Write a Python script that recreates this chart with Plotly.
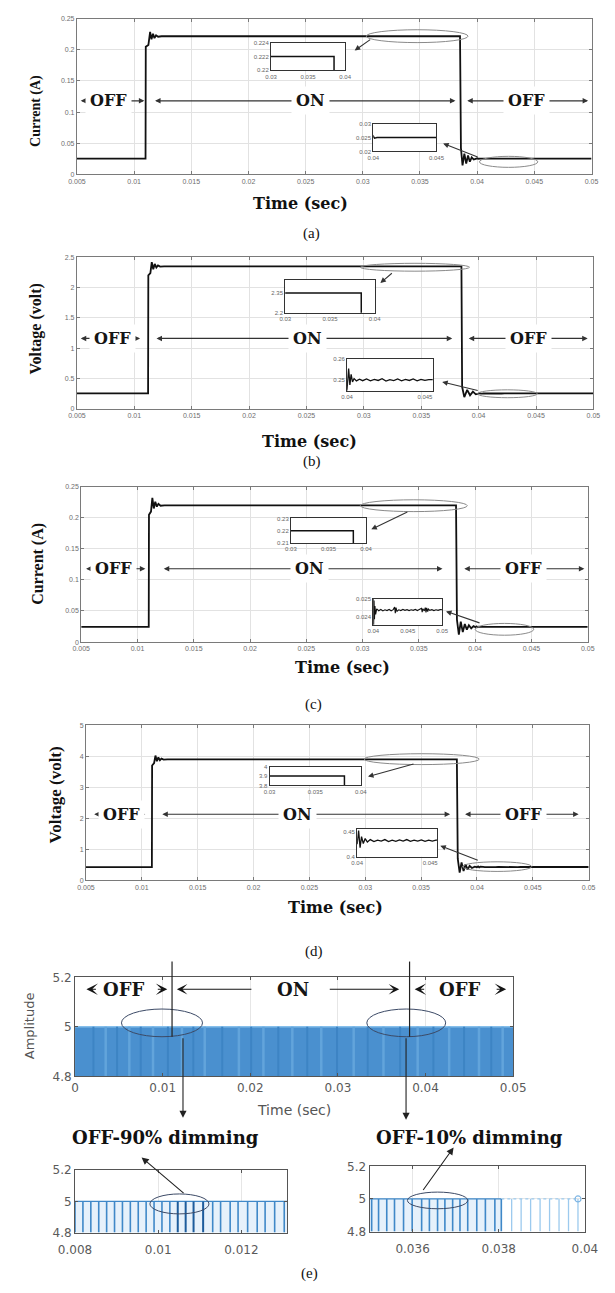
import plotly.graph_objects as go

W, H = 615, 1293

# ---------------- data ----------------
main_xticks = [0.005, 0.01, 0.015, 0.02, 0.025, 0.03, 0.035, 0.04, 0.045, 0.05]
main_xticklabels = ["0.005", "0.01", "0.015", "0.02", "0.025", "0.03", "0.035", "0.04", "0.045", "0.05"]
cur_yticks = [0, 0.05, 0.1, 0.15, 0.2, 0.25]
cur_yticklabels = ["0", "0.05", "0.1", "0.15", "0.2", "0.25"]
volt_b_yticks = [0, 0.5, 1, 1.5, 2, 2.5]
volt_b_yticklabels = ["0", "0.5", "1", "1.5", "2", "2.5"]
volt_d_yticks = [0, 1, 2, 3, 4, 5]
volt_d_yticklabels = ["0", "1", "2", "3", "4", "5"]

# (a) current waveform
t_a = [0.0050, 0.0110, 0.01102, 0.01125, 0.01140, 0.01152, 0.01165, 0.01178, 0.01192, 0.01210,
       0.01240, 0.03850, 0.03858, 0.03872, 0.03888, 0.03904, 0.03920, 0.03936, 0.03952, 0.03970,
       0.04000, 0.04010, 0.04030, 0.0500]
i_a = [0.025, 0.025, 0.205, 0.208, 0.229, 0.217, 0.226, 0.219, 0.2235, 0.2212,
       0.222, 0.222, 0.042, 0.014, 0.033, 0.017, 0.030, 0.020, 0.027, 0.0235,
       0.0255, 0.0248, 0.025, 0.025]

# (b) voltage waveform
t_b = [0.0050, 0.01120, 0.01122, 0.01140, 0.01152, 0.01165, 0.01178, 0.01192, 0.01206, 0.01225,
       0.01260, 0.03850, 0.03856, 0.03875, 0.03900, 0.03925, 0.03950, 0.03975, 0.04000, 0.04010,
       0.04018, 0.04026, 0.04035, 0.04045, 0.04060, 0.04080, 0.04100, 0.04125, 0.04150, 0.04175,
       0.04200, 0.04225, 0.04250, 0.04275, 0.04300, 0.04325, 0.04350, 0.04375, 0.04400, 0.04425,
       0.04450, 0.04475, 0.04500, 0.04525, 0.05000]
v_b = [0.25, 0.25, 2.20, 2.24, 2.42, 2.30, 2.39, 2.33, 2.365, 2.345,
       2.35, 2.35, 0.36, 0.19, 0.31, 0.22, 0.28, 0.235, 0.246, 0.2555,
       0.2478, 0.2528, 0.2492, 0.2508, 0.2497, 0.2505, 0.2498, 0.2506, 0.2497, 0.2504,
       0.2499, 0.2507, 0.2496, 0.2503, 0.2498, 0.2506, 0.2497, 0.2504, 0.2499, 0.2506,
       0.2497, 0.2504, 0.2499, 0.2503, 0.25]

# (c) current waveform (switching part + noisy OFF tail)
t_c_switch = [0.0050, 0.01100, 0.01102, 0.01120, 0.01132, 0.01145, 0.01158, 0.01172, 0.01186, 0.01205,
              0.01240, 0.03830, 0.03838, 0.03855, 0.03872, 0.03890, 0.03908, 0.03926, 0.03944, 0.03965,
              0.03985]
i_c_switch = [0.0244, 0.0244, 0.205, 0.210, 0.232, 0.215, 0.226, 0.218, 0.2225, 0.2195,
              0.22, 0.22, 0.036, 0.012, 0.033, 0.016, 0.029, 0.020, 0.027, 0.022,
              0.0255]
t_c_tail = [0.04000, 0.04006, 0.04012, 0.04018, 0.04025, 0.04035, 0.04050, 0.04080, 0.04110, 0.04140,
            0.04170, 0.04200, 0.04230, 0.04260, 0.04290, 0.04310, 0.04320, 0.04330, 0.04345, 0.04370,
            0.04400, 0.04430, 0.04460, 0.04490, 0.04520, 0.04550, 0.04580, 0.04610, 0.04640, 0.04670,
            0.04700, 0.04710, 0.04720, 0.04740, 0.04755, 0.04765, 0.04775, 0.04790, 0.04800, 0.04820,
            0.04850, 0.04880, 0.04910, 0.04940, 0.04970, 0.05000]
i_c_tail = [0.0250, 0.0236, 0.0249, 0.0239, 0.0246, 0.02415, 0.02445, 0.02435, 0.02442, 0.02434,
            0.0244, 0.02436, 0.02442, 0.02435, 0.02441, 0.02455, 0.02422, 0.02452, 0.02432, 0.0244,
            0.02436, 0.02442, 0.02437, 0.02441, 0.02436, 0.0244, 0.02437, 0.02442, 0.02436, 0.0244,
            0.02448, 0.02428, 0.02446, 0.02434, 0.02452, 0.02426, 0.0245, 0.0243, 0.02444, 0.02437,
            0.02441, 0.02436, 0.0244, 0.02437, 0.02441, 0.0244]

# (d) voltage waveform
t_d = [0.0050, 0.01090, 0.01092, 0.01110, 0.01122, 0.01135, 0.01148, 0.01162, 0.01176, 0.01195,
       0.01230, 0.03820, 0.03828, 0.03845, 0.03862, 0.03880, 0.03898, 0.03916, 0.03934, 0.03955,
       0.03980, 0.04000, 0.04010, 0.04020, 0.04030, 0.04042, 0.04055, 0.04070, 0.04090, 0.04115,
       0.04140, 0.04165, 0.04190, 0.04215, 0.04240, 0.04265, 0.04290, 0.04315, 0.04340, 0.04365,
       0.04390, 0.04415, 0.04440, 0.04465, 0.04490, 0.04515, 0.04540, 0.05000]
v_d = [0.43, 0.43, 3.70, 3.78, 4.02, 3.84, 3.96, 3.87, 3.92, 3.89,
       3.90, 3.90, 0.70, 0.25, 0.58, 0.30, 0.52, 0.35, 0.47, 0.40,
       0.445, 0.425, 0.452, 0.418, 0.440, 0.426, 0.436, 0.429, 0.434, 0.430,
       0.433, 0.431, 0.434, 0.430, 0.433, 0.4305, 0.4335, 0.431, 0.434, 0.4305,
       0.433, 0.431, 0.4335, 0.4305, 0.433, 0.431, 0.433, 0.432]

# (e) PWM amplitude
e_xticks = [0, 0.01, 0.02, 0.03, 0.04, 0.05]
e_xticklabels = ["0", "0.01", "0.02", "0.03", "0.04", "0.05"]
e_yticks = [4.8, 5.0, 5.2]
e_yticklabels = ["4.8", "5", "5.2"]
e_floor = 4.8
e_level = 5.0
e_span_t = [0.0, 0.05]
e_stripe_light_t = [0.0035, 0.0062, 0.0089, 0.0122, 0.0148, 0.0187, 0.0215, 0.0248, 0.0281, 0.0318,
                    0.0352, 0.0391, 0.0427, 0.0461, 0.0488]
e_stripe_dark_t = [0.0021, 0.0048, 0.0075, 0.0106, 0.0135, 0.0168, 0.0201, 0.0232, 0.0265, 0.0299,
                   0.0334, 0.0371, 0.0409, 0.0444, 0.0475]
e_bl_xticks = [0.008, 0.01, 0.012]
e_bl_xticklabels = ["0.008", "0.01", "0.012"]
e_bl_range = [0.008, 0.0131]
e_bl_t = [0.00800, 0.00819, 0.00838, 0.00857, 0.00876, 0.00895, 0.00914, 0.00933, 0.00952, 0.00971,
          0.00990, 0.01009, 0.01028, 0.01047, 0.01066, 0.01085, 0.01108, 0.01131, 0.01150, 0.01173,
          0.01192, 0.01215, 0.01238, 0.01257, 0.01280, 0.01303]
e_br_xticks = [0.036, 0.038, 0.04]
e_br_xticklabels = ["0.036", "0.038", "0.04"]
e_br_range = [0.035, 0.0400]
e_br_on_t = [0.03505, 0.03521, 0.03540, 0.03558, 0.03579, 0.03599, 0.03621, 0.03639, 0.03658, 0.03675,
             0.03693, 0.03710, 0.03728, 0.03749, 0.03769, 0.03791, 0.03806]
e_br_off_t = [0.03830, 0.03852, 0.03874, 0.03896, 0.03918, 0.03940, 0.03962, 0.03984]

assert len(t_a) == len(i_a) and len(t_b) == len(v_b) and len(t_d) == len(v_d)
assert len(t_c_switch) == len(i_c_switch) and len(t_c_tail) == len(i_c_tail)
t_c = t_c_switch + t_c_tail
i_c = i_c_switch + i_c_tail

# ---------------- helpers ----------------
def px(v):
    return v / W

def py(v):
    return 1 - v / H

layout = dict(width=W, height=H, autosize=False, margin=dict(l=0, r=0, t=0, b=0),
              paper_bgcolor="white", plot_bgcolor="white", showlegend=False)
annotations = []
shapes = []
fig = go.Figure()

main_style = dict(showline=True, linecolor="#7a7a7a", linewidth=1, mirror="allticks",
                  ticks="inside", ticklen=3, tickcolor="#7a7a7a", tickwidth=1,
                  showgrid=True, gridcolor="#e2e2e2", gridwidth=1, zeroline=False,
                  tickfont=dict(family="Liberation Sans", size=7, color="#6e6e6e"))
inset_style = dict(showline=True, linecolor="#333333", linewidth=1, mirror=True, ticks="",
                   showgrid=False, zeroline=False,
                   tickfont=dict(family="Liberation Sans", size=6, color="#666666"))
e_style = dict(showline=True, linecolor="#555555", linewidth=1, mirror="allticks",
               ticks="inside", ticklen=3, tickcolor="#555555", showgrid=True,
               gridcolor="#e6e6e6", zeroline=False,
               tickfont=dict(family="DejaVu Sans", size=12, color="#5a5a5a"))


def add_axes(n, xpx, ypx, xr, yr, xt, xtl, yt, ytl, style, xextra=None):
    xid = "x" if n == 1 else f"x{n}"
    yid = "y" if n == 1 else f"y{n}"
    xname = "xaxis" if n == 1 else f"xaxis{n}"
    yname = "yaxis" if n == 1 else f"yaxis{n}"
    layout[xname] = dict(domain=[px(xpx[0]), px(xpx[1])], anchor=yid, range=xr,
                         tickvals=xt, ticktext=xtl, **style, **(xextra or {}))
    layout[yname] = dict(domain=[py(ypx[1]), py(ypx[0])], anchor=xid, range=yr,
                         tickvals=yt, ticktext=ytl, **style)
    return xid, yid


def line_trace(xs, ys, ax, width=1.8, color="#111111"):
    fig.add_trace(go.Scatter(x=xs, y=ys, mode="lines", line=dict(color=color, width=width),
                             xaxis=ax[0], yaxis=ax[1], hoverinfo="skip"))


def ellipse(ax, x0, x1, y0, y1, color="#8a8a8a"):
    shapes.append(dict(type="circle", xref=ax[0], yref=ax[1], x0=x0, x1=x1, y0=y0, y1=y1,
                       line=dict(color=color, width=1)))


def pointer(hx, hy, tx, ty, color="#333333", head=2, size=1.0):
    annotations.append(dict(x=px(hx), y=py(hy), xref="paper", yref="paper", ax=tx - hx, ay=ty - hy,
                            axref="pixel", ayref="pixel", text="", showarrow=True, arrowhead=head,
                            arrowsize=size, arrowwidth=1.1, arrowcolor=color, standoff=0))


def span_labels(ax, y, spans, size=16):
    for (x0, x1, xc, txt) in spans:
        annotations.append(dict(x=x1, y=y, ax=x0, ay=y, xref=ax[0], yref=ax[1], axref=ax[0], ayref=ax[1],
                                text="", showarrow=True, arrowhead=2, startarrowhead=2,
                                arrowside="end+start", arrowsize=1, startarrowsize=1, arrowwidth=1.1,
                                arrowcolor="#333333", standoff=0, startstandoff=0))
        annotations.append(dict(x=xc, y=y, xref=ax[0], yref=ax[1], text=f"<b>{txt}</b>", showarrow=False,
                                xanchor="center", yanchor="middle",
                                font=dict(family="DejaVu Serif", size=size, color="#151515"),
                                bgcolor="white", borderpad=4))


def text(x, y, s, size, family="Liberation Serif", angle=0, color="#111111", bold=False):
    annotations.append(dict(x=px(x), y=py(y), xref="paper", yref="paper", showarrow=False,
                            xanchor="center", yanchor="middle",
                            text=f"<b>{s}</b>" if bold else s, textangle=angle,
                            font=dict(family=family, size=size, color=color)))


# ---------------- panel (a) ----------------
A = add_axes(1, (63, 604), (12, 169), [0.005, 0.05], [0, 0.25], main_xticks, main_xticklabels,
             cur_yticks, cur_yticklabels, main_style)
A1 = add_axes(2, (267, 345), (36, 64), [0.03, 0.04], [0.22, 0.224], [0.03, 0.035, 0.04],
              ["0.03", "0.035", "0.04"], [0.22, 0.222, 0.224], ["0.22", "0.222", "0.224"], inset_style)
A2 = add_axes(3, (374.5, 441), (118, 146), [0.04, 0.045], [0.02, 0.03], [0.04, 0.045],
              ["0.04", "0.045"], [0.02, 0.025, 0.03], ["0.02", "0.025", "0.03"], inset_style)
line_trace(t_a, i_a, A)
line_trace(t_a, i_a, A1, 1.5)
line_trace(t_a, i_a, A2, 1.5)
ellipse(A, 0.0303, 0.0392, 0.2118, 0.2325)
ellipse(A, 0.0402, 0.0453, 0.011, 0.0287)
pointer(355, 44, 372, 32)
pointer(448, 138, 484, 152)
span_labels(A, 0.118, [(0.0052, 0.0109, 0.00775, "OFF"), (0.0117, 0.0381, 0.0254, "ON"),
                       (0.0390, 0.0497, 0.0443, "OFF")])
text(20, 105, "Current (A)", 14, angle=-90, bold=True)
text(298, 199, "Time (sec)", 16, family="DejaVu Serif", bold=True)
text(310, 229, "(a)", 15)

# ---------------- panel (b) ----------------
B = add_axes(4, (63, 606), (253, 406), [0.005, 0.05], [0, 2.5], main_xticks, main_xticklabels,
             volt_b_yticks, volt_b_yticklabels, main_style)
B1 = add_axes(5, (282, 376), (276, 309), [0.03, 0.04], [2.2, 2.45], [0.03, 0.035, 0.04],
              ["0.03", "0.035", "0.04"], [2.2, 2.35], ["2.2", "2.35"], inset_style)
B2 = add_axes(6, (347, 437), (356, 388), [0.04, 0.0455], [0.245, 0.26], [0.04, 0.045],
              ["0.04", "0.045"], [0.25, 0.26], ["0.25", "0.26"], inset_style)
line_trace(t_b, v_b, B)
line_trace(t_b, v_b, B1, 1.5)
line_trace(t_b, v_b, B2, 1.3)
ellipse(B, 0.0297, 0.0392, 2.27, 2.40)
ellipse(B, 0.0399, 0.0451, 0.18, 0.31)
pointer(382, 279, 395, 268)
pointer(447, 379, 484, 388)
span_labels(B, 1.16, [(0.0052, 0.0105, 0.00807, "OFF"), (0.0118, 0.0377, 0.0251, "ON"),
                      (0.0390, 0.0495, 0.0443, "OFF")])
text(20, 326, "Voltage (volt)", 16, angle=-90, bold=True)
text(308, 439, "Time (sec)", 16, family="DejaVu Serif", bold=True)
text(310, 459, "(b)", 15)

# ---------------- panel (c) ----------------
C = add_axes(7, (67.5, 600), (485, 642), [0.005, 0.05], [0, 0.25], main_xticks, main_xticklabels,
             cur_yticks, cur_yticklabels, main_style)
C1 = add_axes(8, (288, 367), (517, 542), [0.03, 0.04], [0.21, 0.23], [0.03, 0.035, 0.04],
              ["0.03", "0.035", "0.04"], [0.21, 0.22, 0.23], ["0.21", "0.22", "0.23"], inset_style)
C2 = add_axes(9, (374.5, 447), (598, 625), [0.04, 0.05], [0.02358, 0.025], [0.04, 0.045, 0.05],
              ["0.04", "0.045", "0.05"], [0.024, 0.025], ["0.024", "0.025"], inset_style)
line_trace(t_c, i_c, C)
line_trace(t_c, i_c, C1, 1.5)
line_trace(t_c, i_c, C2, 1.1)
ellipse(C, 0.0298, 0.0393, 0.210, 0.229)
ellipse(C, 0.0400, 0.0452, 0.011, 0.030)
pointer(372.5, 528, 410, 510)
pointer(451, 611, 486, 623)
span_labels(C, 0.118, [(0.0053, 0.0107, 0.00791, "OFF"), (0.0122, 0.0371, 0.0253, "ON"),
                       (0.0389, 0.0497, 0.0443, "OFF")])
text(22, 563, "Current (A)", 16, angle=-90, bold=True)
text(342, 668, "Time (sec)", 16, family="DejaVu Serif", bold=True)
text(312, 705, "(c)", 15)

# ---------------- panel (d) ----------------
D = add_axes(10, (72.5, 601), (726, 883), [0.005, 0.05], [0, 5], main_xticks, main_xticklabels,
             volt_d_yticks, volt_d_yticklabels, main_style)
D1 = add_axes(11, (265.5, 361.5), (768, 787), [0.03, 0.04], [3.8, 4.0], [0.03, 0.035, 0.04],
              ["0.03", "0.035", "0.04"], [3.8, 3.9, 4.0], ["3.8", "3.9", "4"], inset_style)
D2 = add_axes(12, (357.6, 442), (831, 859), [0.04, 0.0455], [0.4, 0.455], [0.04, 0.045],
              ["0.04", "0.045"], [0.4, 0.45], ["0.4", "0.45"], inset_style)
line_trace(t_d, v_d, D)
line_trace(t_d, v_d, D1, 1.5)
line_trace(t_d, v_d, D2, 1.3)
ellipse(D, 0.0299, 0.0402, 3.73, 4.08)
ellipse(D, 0.0387, 0.0449, 0.29, 0.60)
pointer(369, 778, 416, 765)
pointer(445, 848, 484, 863)
span_labels(D, 2.13, [(0.0056, 0.0103, 0.0082, "OFF"), (0.0117, 0.0376, 0.0239, "ON"),
                      (0.0388, 0.0491, 0.0442, "OFF")])
text(40, 797, "Voltage (volt)", 17, angle=-90, bold=True)
text(335, 910, "Time (sec)", 16, family="DejaVu Serif", bold=True)
text(312, 955, "(d)", 15)

# ---------------- panel (e) ----------------
E = add_axes(13, (61, 521.6), (981, 1081), [0, 0.05], [4.8, 5.2], e_xticks, e_xticklabels,
             e_yticks, e_yticklabels, e_style)
EL = add_axes(14, (61, 284), (1176, 1239), e_bl_range, [4.8, 5.2], e_bl_xticks, e_bl_xticklabels,
              e_yticks, e_yticklabels, e_style, dict(ticklabelstandoff=6))
ER = add_axes(15, (370.6, 597), (1172, 1238), e_br_range, [4.8, 5.2], e_br_xticks, e_br_xticklabels,
              e_yticks, e_yticklabels, e_style, dict(ticklabelstandoff=6))

# main filled PWM band
fig.add_trace(go.Scatter(x=e_span_t, y=[e_level] * len(e_span_t), mode="lines", fill="tozeroy",
                         fillcolor="#4a90cf", line=dict(color="#86bfeb", width=1.5),
                         xaxis=E[0], yaxis=E[1], hoverinfo="skip"))


def stems(ts, ax, color, width):
    xs, ys = [], []
    for t in ts:
        xs += [t, t, None]
        ys += [e_floor, e_level, None]
    fig.add_trace(go.Scatter(x=xs, y=ys, mode="lines", line=dict(color=color, width=width),
                             xaxis=ax[0], yaxis=ax[1], hoverinfo="skip"))


stems(e_stripe_light_t, E, "#62a4db", 2.5)
stems(e_stripe_dark_t, E, "#3d84c4", 2.0)

# bottom-left zoom
fig.add_trace(go.Scatter(x=e_bl_range, y=[e_level, e_level], mode="lines", fill="tozeroy",
                         fillcolor="#e6f1fb", line=dict(color="#3f88c8", width=1.2),
                         xaxis=EL[0], yaxis=EL[1], hoverinfo="skip"))
stems([t for t in e_bl_t if t < 0.0104 or t > 0.0112], EL, "#3f88c8", 1.6)
stems([t for t in e_bl_t if 0.0104 <= t <= 0.0112], EL, "#1d5c9c", 2.0)

# bottom-right zoom
fig.add_trace(go.Scatter(x=[e_br_range[0], e_br_on_t[-1]], y=[e_level, e_level], mode="lines",
                         fill="tozeroy", fillcolor="#e6f1fb", line=dict(color="#3f88c8", width=1.2),
                         xaxis=ER[0], yaxis=ER[1], hoverinfo="skip"))
fig.add_trace(go.Scatter(x=[e_br_on_t[-1], e_br_off_t[-1]], y=[e_level, e_level], mode="lines",
                         line=dict(color="#9ccaee", width=1.2, dash="dot"),
                         xaxis=ER[0], yaxis=ER[1], hoverinfo="skip"))
stems(e_br_on_t, ER, "#3f88c8", 1.6)
stems(e_br_off_t, ER, "#9ccaee", 1.3)
fig.add_trace(go.Scatter(x=[e_br_off_t[-1]], y=[e_level], mode="markers",
                         marker=dict(symbol="circle-open", size=6, color="#7fb6e4", line=dict(width=1.2)),
                         xaxis=ER[0], yaxis=ER[1], hoverinfo="skip"))

# ellipses
ellipse(E, 0.0053, 0.01455, 4.96, 5.072, "#3c4a66")
ellipse(E, 0.0333, 0.0423, 4.96, 5.072, "#3c4a66")
ellipse(EL, 0.0098, 0.01122, 4.92, 5.048, "#3c4a66")
ellipse(ER, 0.03588, 0.03728, 4.94, 5.042, "#3c4a66")

# vertical marker lines and arrows
shapes.append(dict(type="line", xref="paper", yref="paper", x0=px(163), x1=px(163), y0=py(965), y1=py(1041),
                   line=dict(color="#222222", width=1.2)))
shapes.append(dict(type="line", xref="paper", yref="paper", x0=px(412.7), x1=px(412.7), y0=py(965),
                   y1=py(1041), line=dict(color="#222222", width=1.2)))
pointer(174.5, 1123, 174.5, 1042, "#222222", 2, 1.3)
pointer(409, 1125, 409, 1042, "#222222", 2, 1.3)
pointer(131, 1163, 174.5, 1200, "#222222", 2, 1.3)
pointer(459, 1153, 427.5, 1197, "#222222", 2, 1.3)

# OFF / ON labels in (e)
e_lab_y = 5.152
e_font = dict(family="DejaVu Serif", size=18, color="#151515")
for (xc, s) in [(0.00554, "OFF"), (0.0249, "ON"), (0.0439, "OFF")]:
    annotations.append(dict(x=xc, y=e_lab_y, xref=E[0], yref=E[1], text=f"<b>{s}</b>",
                            xanchor="center", yanchor="middle", showarrow=False, font=e_font))
for (hx, off) in [(0.0013, 11), (0.01053, -11), (0.03876, 11), (0.0492, -11)]:
    annotations.append(dict(x=hx, y=e_lab_y, xref=E[0], yref=E[1], ax=off, ay=0, axref="pixel",
                            ayref="pixel", text="", showarrow=True, arrowhead=3, arrowsize=1.6,
                            arrowwidth=1.2, arrowcolor="#151515", standoff=0))
for (tx, hx) in [(0.0203, 0.01162), (0.0289, 0.0370)]:
    annotations.append(dict(x=hx, y=e_lab_y, ax=tx, ay=e_lab_y, xref=E[0], yref=E[1], axref=E[0],
                            ayref=E[1], text="", showarrow=True, arrowhead=3, arrowsize=1.6,
                            arrowwidth=1.1, arrowcolor="#151515", standoff=0))

text(291, 1115, "Time (sec)", 14, family="DejaVu Sans", color="#555555")
text(13, 1030, "Amplitude", 13, family="DejaVu Sans", angle=-90, color="#555555")
text(156, 1143, "OFF-90% dimming", 18, family="DejaVu Serif", bold=True)
text(476, 1143, "OFF-10% dimming", 18, family="DejaVu Serif", bold=True)
text(307, 1280, "(e)", 15)

layout["annotations"] = annotations
layout["shapes"] = shapes
fig.update_layout(**layout)
fig.write_html("out.html", config={"displayModeBar": False},
               post_script="document.body.style.margin='0px';")
